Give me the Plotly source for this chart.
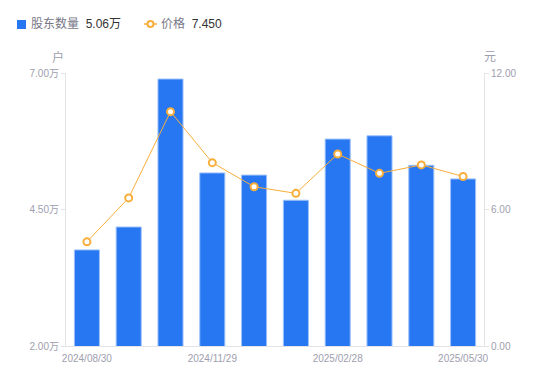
import plotly.graph_objects as go

dates = ["2024/08/30", "2024/09/30", "2024/10/31", "2024/11/29", "2024/12/31",
         "2025/01/27", "2025/02/28", "2025/03/31", "2025/04/30", "2025/05/30"]
holders_wan = [3.76, 4.18, 6.89, 5.17, 5.13, 4.67, 5.79, 5.85, 5.31, 5.06]
price = [4.58, 6.51, 10.30, 8.06, 7.00, 6.71, 8.44, 7.59, 7.96, 7.45]
shown_ticks = ["2024/08/30", "2024/11/29", "2025/02/28", "2025/05/30"]
left_ticks = [2.0, 4.5, 7.0]
right_ticks = [0.0, 6.0, 12.0]

W, H = 550, 381
D = 8  # page body offset
ML, MT = 66 - D, 73 - D
MR = W - (484 - D)
MB = H - (346 - D)
PW, PH = W - ML - MR, H - MT - MB

def px(x):
    return (x - D - ML) / PW

def py(y):
    return 1 - (y - D - MT) / PH

BLUE = "#2777f3"
ORANGE = "#f7ae3b"
TICK = "#9e9eae"
AXIS = "#e3e3e8"
FONT = "Liberation Sans, Noto Sans CJK SC, sans-serif"

fig = go.Figure()
fig.add_trace(go.Bar(
    x=dates, y=holders_wan, width=0.6,
    marker=dict(color=BLUE, line=dict(color="#9fc2fa", width=1)),
    name="股东数量", showlegend=False, yaxis="y",
))
fig.add_trace(go.Scatter(
    x=dates, y=price, mode="lines+markers", yaxis="y2",
    line=dict(color=ORANGE, width=1),
    marker=dict(symbol="circle", size=7, color="white", line=dict(color=ORANGE, width=2)),
    name="价格", showlegend=False,
))

fig.update_layout(
    width=W, height=H,
    margin=dict(l=ML, r=MR, t=MT, b=MB, autoexpand=False),
    plot_bgcolor="white", paper_bgcolor="white",
    font=dict(family=FONT, size=10, color=TICK),
    xaxis=dict(
        type="category", range=[-0.5, len(dates) - 0.5],
        tickmode="array", tickvals=shown_ticks, ticktext=shown_ticks,
        showline=True, linecolor=AXIS, linewidth=1, ticks="", showgrid=False,
        ticklabelstandoff=3,
        tickfont=dict(size=10, color=TICK), zeroline=False, automargin=False,
    ),
    yaxis=dict(
        range=[2, 7], tickmode="array", tickvals=left_ticks,
        ticktext=[f"{v:.2f}万" for v in left_ticks],
        showline=True, linecolor=AXIS, linewidth=1, ticks="outside", ticklen=4,
        tickcolor=AXIS, showgrid=False, zeroline=False, automargin=False,
        tickfont=dict(size=10, color=TICK),
    ),
    yaxis2=dict(
        range=[0, 12], tickmode="array", tickvals=right_ticks,
        ticktext=[f"{v:.2f}" for v in right_ticks],
        overlaying="y", side="right",
        showline=True, linecolor=AXIS, linewidth=1, ticks="outside", ticklen=4,
        tickcolor=AXIS, showgrid=False, zeroline=False, automargin=False,
        tickfont=dict(size=10, color=TICK),
    ),
    showlegend=False,
)

# axis unit labels
fig.add_annotation(text="户", x=px(58), y=py(57), xref="paper", yref="paper",
                   xanchor="center", yanchor="middle",
                   showarrow=False, font=dict(size=12, color=TICK))
fig.add_annotation(text="元", x=px(490), y=py(57), xref="paper", yref="paper",
                   xanchor="center", yanchor="middle",
                   showarrow=False, font=dict(size=12, color=TICK))

# custom legend
fig.add_shape(type="rect", xref="paper", yref="paper",
              x0=px(17), x1=px(26), y0=py(29), y1=py(20),
              fillcolor=BLUE, line=dict(width=0))
fig.add_annotation(
    text="股东数量 <span style='color:#333333'> 5.06万</span>",
    x=px(29), y=py(24), xref="paper", yref="paper", xanchor="left", yanchor="middle",
    showarrow=False, font=dict(size=12, color="#777788"))
fig.add_shape(type="line", xref="paper", yref="paper",
              x0=px(144), x1=px(157), y0=py(24), y1=py(24),
              line=dict(color=ORANGE, width=1.5))
fig.add_shape(type="circle", xref="paper", yref="paper",
              x0=px(147.5), x1=px(153.5), y0=py(27), y1=py(21),
              fillcolor="white", line=dict(color=ORANGE, width=2))
fig.add_annotation(
    text="价格 <span style='color:#333333'> 7.450</span>",
    x=px(159), y=py(24), xref="paper", yref="paper", xanchor="left", yanchor="middle",
    showarrow=False, font=dict(size=12, color="#777788"))

fig.write_html("out.html")
